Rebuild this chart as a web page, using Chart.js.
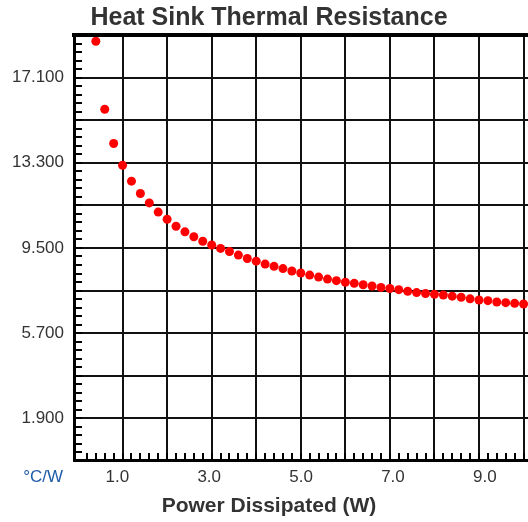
<!DOCTYPE html>
<html>
<head>
<meta charset="utf-8">
<script src="https://cdn.jsdelivr.net/npm/chart.js@4.4.1/dist/chart.umd.min.js"></script>
<style>
  html, body { margin: 0; padding: 0; background: #fff; }
  #wrap { position: relative; width: 528px; height: 522px; }
</style>
</head>
<body>
<div id="wrap"><canvas id="sink-graph"></canvas></div>
<script>
const FONT = "'Liberation Sans', Arial, sans-serif";

// power dissipated (W)
const powerW = [0.4, 0.6, 0.8, 1.0, 1.2, 1.4, 1.6, 1.8, 2.0, 2.2, 2.4, 2.6, 2.8, 3.0, 3.2, 3.4, 3.6,
  3.8, 4.0, 4.2, 4.4, 4.6, 4.8, 5.0, 5.2, 5.4, 5.6, 5.8, 6.0, 6.2, 6.4, 6.6, 6.8, 7.0, 7.2, 7.4,
  7.6, 7.8, 8.0, 8.2, 8.4, 8.6, 8.8, 9.0, 9.2, 9.4, 9.6, 9.8, 10.0];
// thermal resistance (°C/W)
const resistance = [18.72, 15.69, 14.16, 13.19, 12.48, 11.93, 11.51, 11.10, 10.78, 10.47, 10.22,
  10.00, 9.80, 9.63, 9.48, 9.34, 9.18, 9.03, 8.91, 8.78, 8.68, 8.58, 8.47, 8.38, 8.29, 8.20, 8.11,
  8.04, 7.97, 7.92, 7.86, 7.80, 7.74, 7.69, 7.64, 7.57, 7.51, 7.47, 7.43, 7.40, 7.35, 7.30, 7.23,
  7.18, 7.15, 7.09, 7.06, 7.03, 7.00];

const xGridValues = [1, 2, 3, 4, 5, 6, 7, 8, 9, 10];
const xLabelValues = [1, 3, 5, 7, 9];
const yGridValues = [1.9, 3.8, 5.7, 7.6, 9.5, 11.4, 13.3, 15.2, 17.1, 19.0];
const yLabelValues = [1.9, 5.7, 9.5, 13.3, 17.1];
const xMinorStep = 0.2;
const yMinorStep = 0.38;

// top frame line, small inner ticks and the unit text
const axisDecor = {
  id: 'axisDecor',
  afterDraw(chart) {
    const { ctx, chartArea, scales } = chart;
    const x = scales.x;
    const y = scales.y;
    ctx.save();
    ctx.strokeStyle = '#000';
    ctx.lineWidth = 2;
    ctx.beginPath();
    for (let v = xMinorStep; v < x.max; v += xMinorStep) {
      const px = Math.round(x.getPixelForValue(v));
      ctx.moveTo(px, chartArea.bottom);
      ctx.lineTo(px, chartArea.bottom - 8);
    }
    for (let v = yMinorStep; v < y.max; v += yMinorStep) {
      const py = Math.round(y.getPixelForValue(v));
      ctx.moveTo(chartArea.left, py);
      ctx.lineTo(chartArea.left + 8, py);
    }
    ctx.stroke();

    ctx.lineWidth = 4;
    ctx.beginPath();
    ctx.moveTo(chartArea.left - 2, chartArea.top);
    ctx.lineTo(chartArea.right, chartArea.top);
    ctx.stroke();

    ctx.fillStyle = '#1f5ca8';
    ctx.font = '17px ' + FONT;
    ctx.textAlign = 'right';
    ctx.textBaseline = 'middle';
    ctx.fillText('°C/W', 63, 477);
    ctx.restore();
  }
};

const ctx = document.getElementById('sink-graph');
new Chart(ctx, {
  type: 'scatter',
  data: {
    datasets: [{
      data: powerW.map((p, i) => ({ x: p, y: resistance[i] })),
      backgroundColor: '#ff0000',
      borderWidth: 0,
      pointRadius: 4.5,
      pointHoverRadius: 4.5
    }]
  },
  options: {
    responsive: true,
    maintainAspectRatio: false,
    animation: false,
    layout: { autoPadding: false, padding: { left: 10, right: 0, top: 0, bottom: 0 } },
    plugins: {
      legend: { display: false },
      tooltip: { enabled: false },
      title: {
        display: true,
        text: 'Heat Sink Thermal Resistance',
        color: '#333',
        font: { family: FONT, size: 25, weight: 'bold' },
        padding: { top: 3, bottom: 2 }
      },
      subtitle: {
        display: true,
        position: 'bottom',
        text: 'Power Dissipated (W)',
        color: '#333',
        font: { family: FONT, size: 21, weight: 'bold' },
        padding: { top: 0.6, bottom: 2.9 }
      }
    },
    scales: {
      x: {
        type: 'linear',
        min: -0.09,
        max: 10.1,
        afterBuildTicks: scale => { scale.ticks = xGridValues.map(v => ({ value: v })); },
        ticks: { display: false },
        grid: { color: '#111', lineWidth: 2, drawTicks: false },
        border: { color: '#000', width: 3 }
      },
      xl: {
        type: 'linear',
        position: 'bottom',
        min: 0.057,
        max: 9.94,
        afterBuildTicks: scale => { scale.ticks = xLabelValues.map(v => ({ value: v })); },
        afterFit: scale => { scale.paddingLeft = 0; scale.paddingRight = 0; },
        ticks: {
          padding: 6,
          color: '#333',
          font: { family: FONT, size: 17 },
          callback: v => v.toFixed(1)
        },
        grid: { display: false, drawTicks: false },
        border: { display: false }
      },
      y: {
        type: 'linear',
        min: 0,
        max: 19,
        afterBuildTicks: scale => { scale.ticks = yGridValues.map(v => ({ value: v })); },
        afterFit: scale => { scale.width = 64; },
        ticks: {
          padding: 10,
          color: '#333',
          font: { family: FONT, size: 17 },
          callback: v => (yLabelValues.includes(v) ? v.toFixed(3) : '')
        },
        grid: { color: '#111', lineWidth: 2, drawTicks: false },
        border: { color: '#000', width: 3 }
      }
    }
  },
  plugins: [axisDecor]
});
</script>
</body>
</html>
